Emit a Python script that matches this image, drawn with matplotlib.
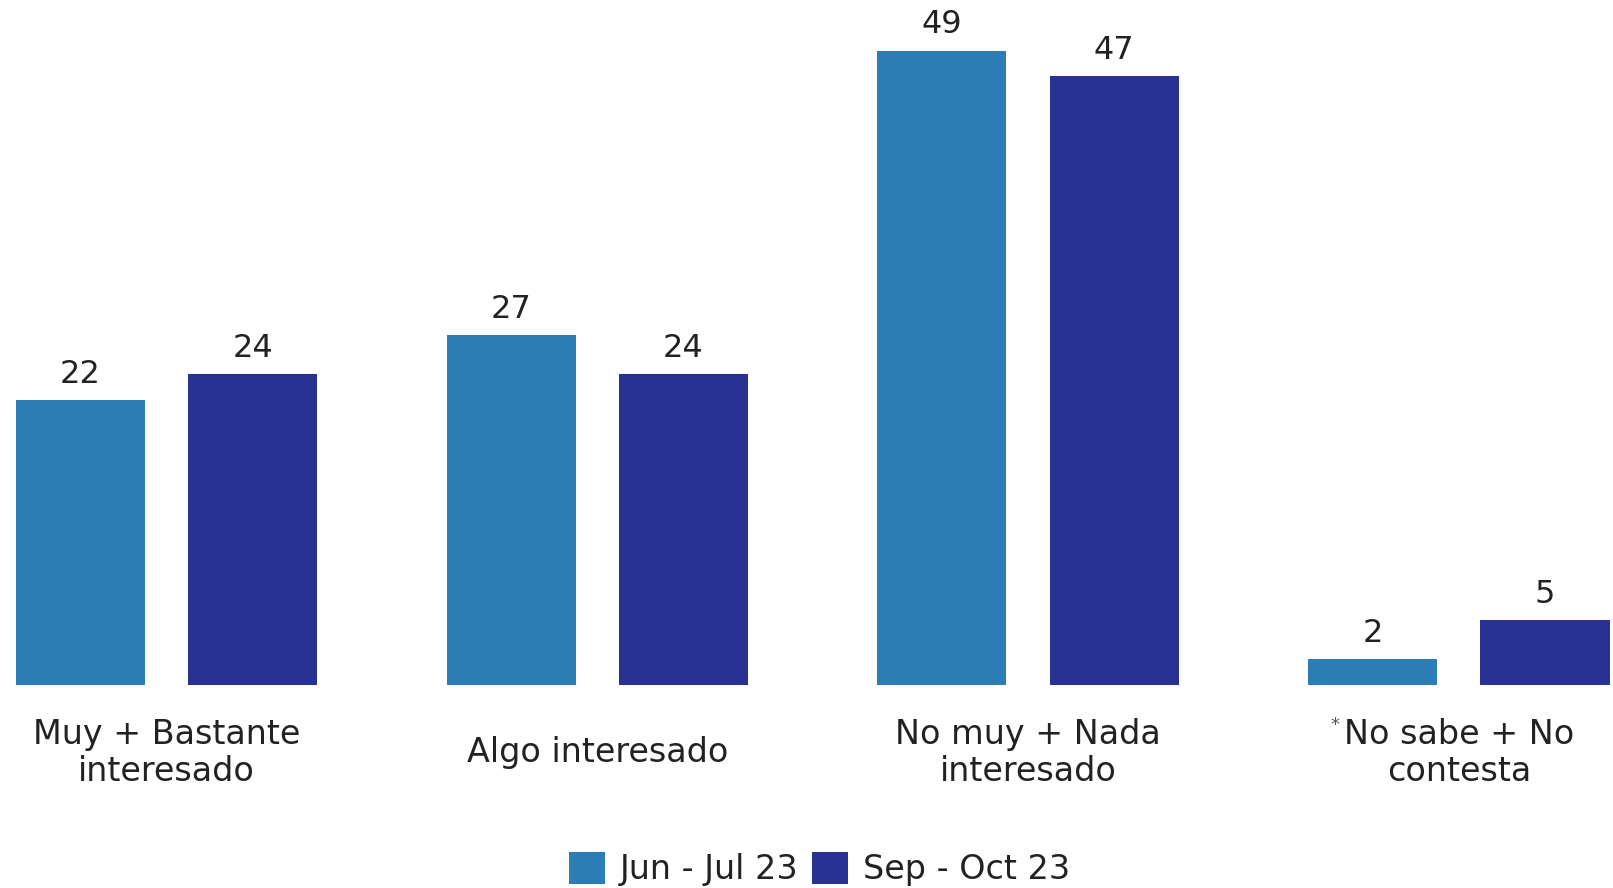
import matplotlib.pyplot as plt
import numpy as np

categorias = ["Muy + Bastante\ninteresado", "Algo interesado",
              "No muy + Nada\ninteresado", "No sabe + No\ncontesta"]
jun_jul = [22, 27, 49, 2]
sep_oct = [24, 24, 47, 5]
series = ["Jun - Jul 23", "Sep - Oct 23"]

c1 = "#2c7db6"
c2 = "#283292"
txt = "#222222"

plt.rcParams['font.family'] = ['DejaVu Sans']

fig = plt.figure(figsize=(16.13, 8.88), dpi=100)
ax = fig.add_axes([0, 0.2286, 1, 0.7714])

x = np.arange(len(categorias))
w = 0.3
off = 0.2
b1 = ax.bar(x - off, jun_jul, w, color=c1, label=series[0])
b2 = ax.bar(x + off, sep_oct, w, color=c2, label=series[1])

for bars, vals in ((b1, jun_jul), (b2, sep_oct)):
    for b, v in zip(bars, vals):
        ax.text(b.get_x() + b.get_width() / 2, v + 0.8, str(v),
                ha='center', va='bottom', fontsize=23, color=txt)

# etiquetas de categoria debajo de las barras
labels = []
for xi, cat in zip(x, categorias):
    t = ax.text(xi, -5.25, cat, ha='center', va='center',
                fontsize=24, color=txt, linespacing=1.12)
    labels.append(t)
ax.annotate("*", xy=(0, 1), xycoords=labels[-1], xytext=(-3, 2),
            textcoords='offset points', ha='right', va='top',
            fontsize=13, color='#555555')

ax.set_xlim(-0.3866, 3.358)
ax.set_ylim(0, 52.9)
ax.axis('off')

fig.legend(loc='lower center', bbox_to_anchor=(0.508, -0.032), ncol=2,
           frameon=False, fontsize=24, handlelength=1.08, handleheight=1.08,
           handletextpad=0.43, columnspacing=0.43, labelcolor=txt)

fig.savefig("out.png", dpi=100)
